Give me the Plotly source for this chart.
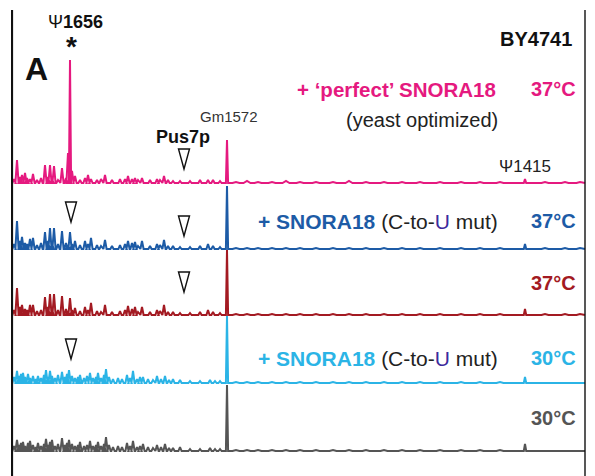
import plotly.graph_objects as go

# ---------------- data ----------------
# shared peak positions (x, arbitrary units along the trace)
left_pos_A = [14, 17, 20, 22, 25, 27, 30, 33, 37, 41,
              45, 48, 50, 52, 54, 58, 62, 66, 68, 70,
              72, 75, 80, 85, 88, 91, 97, 101, 105, 112,
              120, 125, 128, 132, 135, 138, 142, 150, 157, 160,
              164, 168, 173, 180, 190, 200, 208, 213, 220, 227]
left_pos_B = [14, 17, 19, 21, 23, 25, 28, 30, 33, 36,
              38, 41, 44, 46, 48, 50, 52, 55, 58, 62,
              65, 67, 69, 72, 75, 78, 80, 84, 87, 90,
              93, 96, 98, 101, 104, 106, 109, 113, 118, 122,
              127, 130, 133, 137, 140, 143, 148, 153, 157, 161,
              165, 169, 173, 180, 190, 200, 210, 215, 220, 227]
right_pos = [236, 247, 258, 272, 286, 300, 316, 333, 349, 366,
             384, 402, 420, 440, 461, 480, 500, 525, 545, 565, 580]

# peak heights per sample
perfect37_left = [4, 23, 6, 8, 10, 5, 4, 9, 3, 5,
                  18, 6, 18, 4, 17, 3, 15, 5, 30, 123,
                  12, 7, 3, 5, 8, 4, 3, 4, 8, 3,
                  4, 4, 7, 4, 5, 3, 5, 3, 4, 3,
                  7, 3, 2, 2, 2, 3, 3, 3, 2, 43]
mut37_left = [5, 28, 8, 12, 6, 5, 10, 11, 4, 6,
              17, 8, 21, 6, 21, 5, 18, 6, 4, 17,
              5, 8, 4, 8, 5, 11, 4, 3, 9, 3,
              4, 5, 8, 6, 7, 3, 8, 3, 5, 4,
              9, 3, 3, 2, 2, 3, 5, 3, 2, 63]
wt37_left = [5, 27, 8, 10, 6, 5, 10, 10, 4, 5,
             18, 8, 21, 6, 21, 5, 19, 6, 4, 17,
             5, 7, 4, 8, 5, 12, 4, 3, 10, 3,
             4, 5, 9, 6, 8, 3, 8, 3, 5, 4,
             10, 3, 3, 2, 2, 3, 5, 3, 2, 65]
mut30_left = [6, 12, 7, 9, 10, 6, 9, 5, 7, 4,
              7, 5, 8, 13, 6, 12, 7, 5, 8, 11,
              6, 9, 13, 7, 5, 6, 8, 5, 7, 10,
              5, 6, 10, 5, 8, 14, 6, 4, 5, 4,
              8, 5, 12, 4, 6, 6, 4, 3, 7, 4,
              7, 3, 4, 3, 2, 2, 3, 2, 2, 67]
wt30_left = [5, 11, 6, 8, 9, 5, 8, 10, 6, 4,
             8, 5, 7, 12, 6, 9, 11, 5, 7, 13,
             6, 8, 11, 7, 5, 6, 9, 5, 6, 10,
             5, 6, 9, 5, 7, 14, 6, 4, 5, 4,
             8, 5, 10, 4, 5, 7, 4, 3, 6, 4,
             7, 3, 3, 4, 2, 2, 3, 2, 2, 66]
perfect37_right = [1, 2, 1, 1, 2, 1, 1, 1, 2, 1, 1, 1, 1, 1, 1, 1, 1, 4, 1, 1, 1]
mut37_right = [1, 1, 1, 1, 1, 1, 1, 1, 1, 1, 1, 1, 1, 1, 1, 1, 1, 5, 1, 1, 1]
wt37_right = [1, 1, 1, 1, 1, 1, 1, 1, 1, 1, 1, 1, 1, 1, 1, 1, 1, 6, 1, 1, 1]
mut30_right = [1, 1, 1, 1, 1, 1, 1, 1, 1, 1, 1, 1, 1, 1, 1, 1, 1, 6, 0, 0, 0]
wt30_right = [1, 1, 1, 1, 1, 1, 1, 1, 1, 1, 1, 1, 1, 1, 1, 1, 1, 7, 0, 0, 0]

samples = ["perfect SNORA18 37°C", "SNORA18 C-to-U 37°C", "BY4741 37°C",
           "SNORA18 C-to-U 30°C", "BY4741 30°C"]

# ---------------- styling / layout ----------------
colors = ["#e5197f", "#1d5ba6", "#a31a22", "#2bb4e6", "#555555"]
baselines = [183, 249, 315, 383, 451]
series = [
    (left_pos_A, perfect37_left, perfect37_right),
    (left_pos_A, mut37_left, mut37_right),
    (left_pos_A, wt37_left, wt37_right),
    (left_pos_B, mut30_left, mut30_right),
    (left_pos_B, wt30_left, wt30_right),
]

X0, X1 = 11, 586
fig = go.Figure()

for name, col, base, (lp, lh, rh) in zip(samples, colors, baselines, series):
    assert len(lp) == len(lh) and len(right_pos) == len(rh)
    xs, ys = [12], [base]
    for p, h in sorted(zip(lp, lh)):
        w = 1.1 if h > 30 else 1.6
        xs += [p - w, p, p + w]
        ys += [base, base - h, base]
    for p, h in zip(right_pos, rh):
        w = 1.2 if h > 3 else 3.5
        xs += [p - w, p, p + w]
        ys += [base, base - h, base]
    xs.append(585)
    ys.append(base)
    fig.add_trace(go.Scatter(x=xs, y=ys, mode="lines", name=name,
                             line=dict(color=col, width=2.0),
                             hoverinfo="skip", showlegend=False))

FONT = "Liberation Sans, Arial, Helvetica, sans-serif"
ann = []

def A(x, y, text, size, color="#222", xanchor="center"):
    ann.append(dict(x=x, y=y, xref="x", yref="y", text=text, showarrow=False,
                    xanchor=xanchor, yanchor="middle",
                    font=dict(family=FONT, size=size, color=color)))

A(75, 22, "Ψ<b>1656</b>", 18, "#111")
A(71, 46, "<b>*</b>", 28, "#111")
A(36, 69, "<b>A</b>", 32, "#111")
A(183, 137, "<b>Pus7p</b>", 18, "#111")
A(229, 116, "Gm1572", 15, "#333")
A(525, 166, "Ψ1415", 17, "#222")
A(574, 39, "<b>BY4741</b>", 20, "#111", "right")

A(498, 89, "<b>+ ‘perfect’ SNORA18</b>", 20.5, colors[0], "right")
A(578, 89, "<b>37°C</b>", 20, colors[0], "right")
A(500, 120, "(yeast optimized)", 20, "#222", "right")

mut_txt = ("<b><span style='color:%s'>+ SNORA18</span></b> (C-to-"
           "<span style='color:#3b2a9c'>U</span> mut)")
A(500, 221, mut_txt % colors[1], 21, "#222", "right")
A(578, 221, "<b>37°C</b>", 20, colors[1], "right")
A(578, 283, "<b>37°C</b>", 20, colors[2], "right")
A(500, 358, mut_txt % colors[3], 21, "#222", "right")
A(578, 358, "<b>30°C</b>", 20, colors[3], "right")
A(578, 418, "<b>30°C</b>", 20, colors[4], "right")

# open arrowheads marking sites
tri_x = [184, 71, 184, 184, 71]
tri_top = [149, 202, 216, 272, 339]
shapes = []
for tx, ty in zip(tri_x, tri_top):
    shapes.append(dict(type="path", xref="x", yref="y",
                       path=f"M {tx-5.5},{ty} L {tx+5.5},{ty} L {tx},{ty+20} Z",
                       line=dict(color="#111", width=1.4), fillcolor="rgba(0,0,0,0)"))
# frame lines
shapes.append(dict(type="line", xref="x", yref="y", x0=12, x1=12, y0=10, y1=476,
                   line=dict(color="#111", width=2.2)))
shapes.append(dict(type="line", xref="x", yref="y", x0=585, x1=585, y0=10, y1=476,
                   line=dict(color="#111", width=1.4)))

fig.update_layout(
    width=595, height=476,
    margin=dict(l=X0, r=595 - X1, t=0, b=0),
    paper_bgcolor="white", plot_bgcolor="white",
    xaxis=dict(range=[X0, X1], visible=False, fixedrange=True),
    yaxis=dict(range=[476, 0], visible=False, fixedrange=True),
    annotations=ann, shapes=shapes,
)

fig.write_html("out.html")
